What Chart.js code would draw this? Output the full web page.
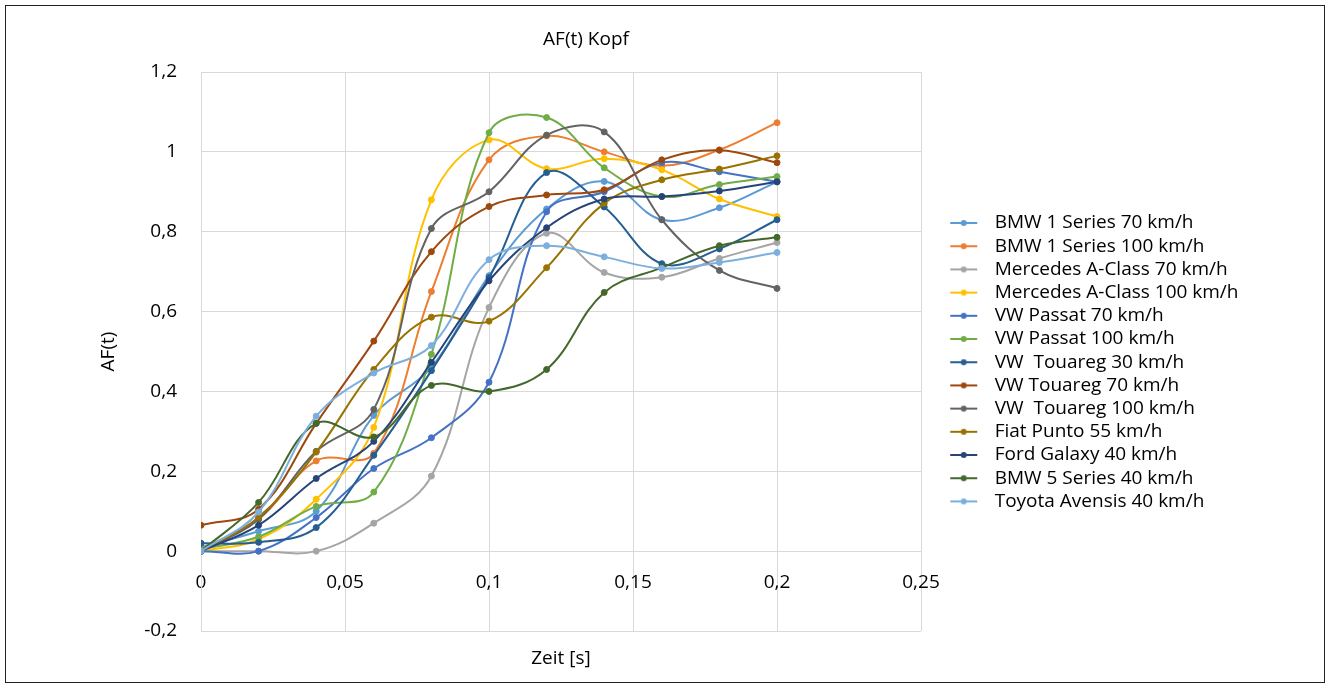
<!DOCTYPE html>
<html lang="de">

<head>
    <meta charset="UTF-8">
    <title>AF(t) Kopf</title>
    <script src="https://cdn.jsdelivr.net/npm/chart.js"></script>
    <style>
        body {
            margin: 0;
            background: #fff;
        }

        .frame {
            position: absolute;
            left: 5px;
            top: 5px;
            width: 1318px;
            height: 676px;
            border: 1px solid #222;
        }
    </style>
</head>

<body>
    <div class="frame">
        <canvas id="kopfChart" width="1318" height="676"></canvas>
    </div>

    <script>
        // Zeitpunkte (s)
        const timeS = [0, 0.02, 0.04, 0.06, 0.08, 0.1, 0.12, 0.14, 0.16, 0.18, 0.2];

        const seriesNames = [
            'BMW 1 Series 70 km/h',
            'BMW 1 Series 100 km/h',
            'Mercedes A-Class 70 km/h',
            'Mercedes A-Class 100 km/h',
            'VW Passat 70 km/h',
            'VW Passat 100 km/h',
            'VW  Touareg 30 km/h',
            'VW Touareg 70 km/h',
            'VW  Touareg 100 km/h',
            'Fiat Punto 55 km/h',
            'Ford Galaxy 40 km/h',
            'BMW 5 Series 40 km/h',
            'Toyota Avensis 40 km/h'
        ];

        const bmw1_70 = [0.01, 0.05, 0.10, 0.34, 0.46, 0.69, 0.857, 0.926, 0.83, 0.86, 0.925];
        const bmw1_100 = [0.005, 0.08, 0.226, 0.245, 0.65, 0.98, 1.04, 1.0, 0.965, 1.005, 1.073];
        const mercA_70 = [0, 0, 0, 0.07, 0.188, 0.61, 0.796, 0.698, 0.686, 0.733, 0.773];
        const mercA_100 = [0, 0.03, 0.13, 0.31, 0.88, 1.03, 0.958, 0.983, 0.955, 0.882, 0.838];
        const passat_70 = [0, 0, 0.084, 0.207, 0.284, 0.423, 0.85, 0.90, 0.973, 0.95, 0.925];
        const passat_100 = [0.005, 0.036, 0.112, 0.148, 0.493, 1.048, 1.086, 0.96, 0.888, 0.918, 0.938];
        const touareg_30 = [0.02, 0.022, 0.059, 0.24, 0.452, 0.685, 0.948, 0.862, 0.72, 0.757, 0.83];
        const touareg_70 = [0.065, 0.105, 0.32, 0.526, 0.75, 0.863, 0.892, 0.905, 0.98, 1.004, 0.973];
        const touareg_100 = [0, 0.08, 0.25, 0.355, 0.808, 0.9, 1.042, 1.05, 0.83, 0.703, 0.658];
        const fiat_55 = [0, 0.085, 0.248, 0.455, 0.586, 0.576, 0.71, 0.871, 0.93, 0.957, 0.99];
        const ford_40 = [0, 0.065, 0.182, 0.275, 0.473, 0.677, 0.81, 0.882, 0.888, 0.902, 0.925];
        const bmw5_40 = [0, 0.122, 0.32, 0.286, 0.415, 0.40, 0.455, 0.648, 0.71, 0.765, 0.786];
        const toyota_40 = [0, 0.098, 0.338, 0.446, 0.515, 0.73, 0.765, 0.737, 0.708, 0.723, 0.748];

        const seriesValues = [bmw1_70, bmw1_100, mercA_70, mercA_100, passat_70, passat_100,
            touareg_30, touareg_70, touareg_100, fiat_55, ford_40, bmw5_40, toyota_40];

        const seriesColors = ['#5B9BD5', '#ED7D31', '#A5A5A5', '#FFC000', '#4472C4', '#70AD47',
            '#255E91', '#9E480E', '#636363', '#997300', '#264478', '#43682B', '#7CAFDD'];

        const fontFamily = '"Open Sans", sans-serif';
        const fontSize = 19;
        const legendPad = 4.2;
        const markerWidth = 60;

        // legend marker: short line with a dot
        function makeMarker(color) {
            const c = document.createElement('canvas');
            c.width = markerWidth;
            c.height = 10;
            const g = c.getContext('2d');
            g.strokeStyle = color;
            g.lineWidth = 2;
            g.beginPath();
            g.moveTo(25, 5);
            g.lineTo(52, 5);
            g.stroke();
            g.fillStyle = color;
            g.beginPath();
            g.arc(38.5, 5, 3, 0, Math.PI * 2);
            g.fill();
            return c;
        }
        const markers = seriesColors.map(makeMarker);

        // chart area right edge sits at 915 px inside the canvas
        const measure = document.createElement('canvas').getContext('2d');
        measure.font = fontSize + 'px ' + fontFamily;
        const maxText = Math.max(...seriesNames.map(n => measure.measureText(n).width));
        const legendWidth = legendPad + markerWidth + fontSize / 2 + maxText + 10;
        const padRight = Math.max(0, 1318 - 915 - legendWidth);

        function fmt(v) {
            return (Math.round(v * 100) / 100).toString().replace('.', ',');
        }

        const titlePlugin = {
            id: 'kopfTitle',
            afterDraw(chart) {
                const ctx = chart.ctx;
                ctx.save();
                ctx.font = fontSize + 'px ' + fontFamily;
                ctx.fillStyle = '#000';
                ctx.textAlign = 'center';
                ctx.textBaseline = 'middle';
                ctx.fillText('AF(t) Kopf', 580, 34);
                ctx.restore();
            }
        };

        Chart.defaults.font.family = fontFamily;
        Chart.defaults.font.size = fontSize;
        Chart.defaults.color = '#000';

        const n = seriesNames.length;
        const datasets = seriesNames.map((name, i) => ({
            label: name,
            data: timeS.map((t, k) => ({ x: t, y: seriesValues[i][k] })),
            borderColor: seriesColors[i],
            backgroundColor: seriesColors[i],
            pointBackgroundColor: seriesColors[i],
            pointBorderColor: seriesColors[i],
            borderWidth: 2,
            pointRadius: 3,
            pointBorderWidth: 1,
            tension: 0.38,
            fill: false,
            order: n - i
        }));

        new Chart(document.getElementById('kopfChart'), {
            type: 'line',
            data: { datasets },
            plugins: [titlePlugin],
            options: {
                responsive: false,
                animation: false,
                layout: { padding: { top: 66, bottom: 51, left: 0, right: padRight } },
                scales: {
                    x: {
                        type: 'linear',
                        position: { y: 0 },
                        min: 0,
                        max: 0.25,
                        grid: { color: '#d9d9d9', drawTicks: false },
                        border: { color: '#d9d9d9' },
                        ticks: { stepSize: 0.05, padding: 20, callback: fmt, maxRotation: 0 },
                        title: { display: true, text: 'Zeit [s]', padding: { top: 33, bottom: 0 } }
                    },
                    y: {
                        min: -0.2,
                        max: 1.2,
                        grid: { color: '#d9d9d9', drawTicks: false },
                        border: { color: '#d9d9d9' },
                        ticks: { stepSize: 0.2, padding: 24, callback: fmt },
                        title: { display: true, text: 'AF(t)', padding: { top: 91.6, bottom: 0 } },
                        afterFit: (scale) => { scale.width = 195; }
                    }
                },
                plugins: {
                    title: { display: false },
                    tooltip: { enabled: false },
                    legend: {
                        position: 'right',
                        align: 'start',
                        fullSize: false,
                        maxWidth: 420,
                        title: { display: true, text: '', padding: { top: 114.5, bottom: 0 } },
                        labels: {
                            usePointStyle: true,
                            pointStyleWidth: markerWidth,
                            padding: legendPad,
                            color: '#000',
                            sort: (a, b) => a.datasetIndex - b.datasetIndex,
                            generateLabels: (chart) => {
                                const items = Chart.defaults.plugins.legend.labels.generateLabels(chart);
                                items.forEach(it => { it.pointStyle = markers[it.datasetIndex]; });
                                return items;
                            }
                        }
                    }
                }
            }
        });
    </script>
</body>

</html>
